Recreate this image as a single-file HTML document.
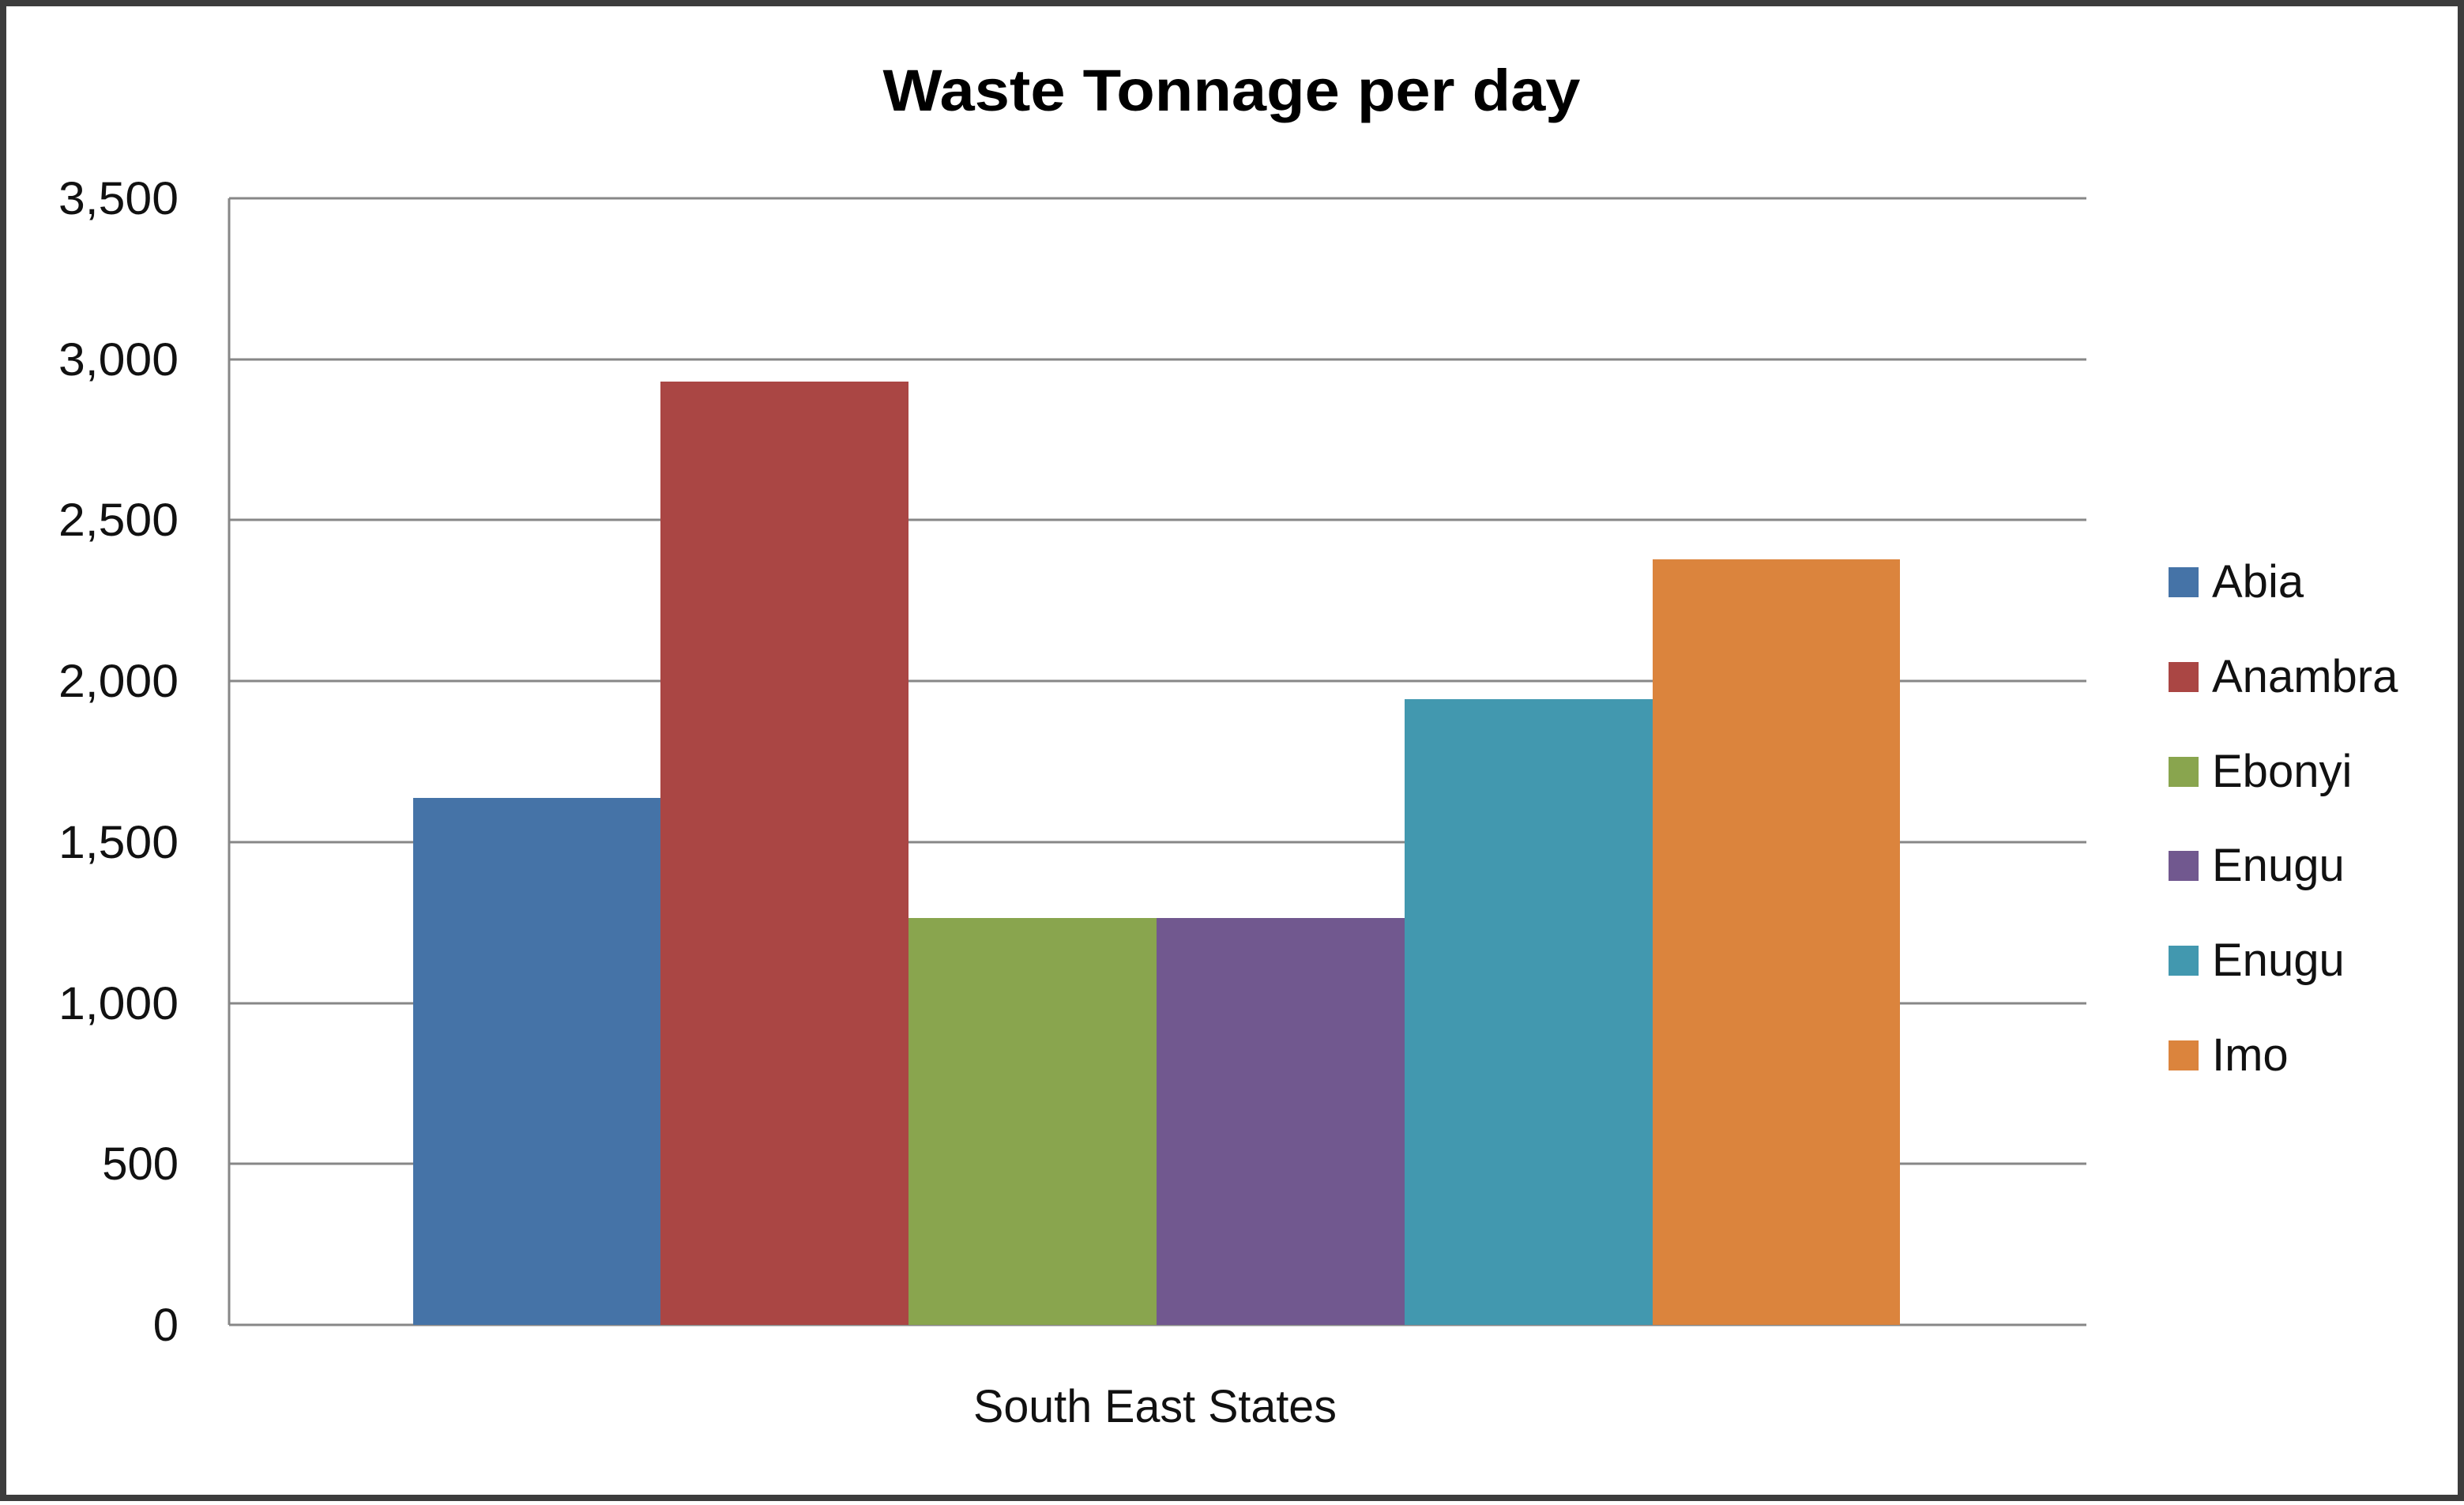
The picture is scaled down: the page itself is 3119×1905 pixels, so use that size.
<!DOCTYPE html>
<html><head><style>html,body{margin:0;padding:0;background:#fff}</style></head><body>
<svg width="3119" height="1900" xmlns="http://www.w3.org/2000/svg" font-family="'Liberation Sans',sans-serif">
<rect x="0" y="0" width="3119" height="1900" fill="#fff"/>
<rect x="4" y="4" width="3111" height="1892" fill="none" stroke="#3c3c3c" stroke-width="8"/>
<text x="1559" y="140" font-size="74" font-weight="bold" text-anchor="middle" textLength="883" lengthAdjust="spacingAndGlyphs">Waste Tonnage per day</text>
<g stroke="#878787" stroke-width="3">
<line x1="290" y1="251" x2="2641" y2="251"/>
<line x1="290" y1="455" x2="2641" y2="455"/>
<line x1="290" y1="658" x2="2641" y2="658"/>
<line x1="290" y1="862" x2="2641" y2="862"/>
<line x1="290" y1="1066" x2="2641" y2="1066"/>
<line x1="290" y1="1270" x2="2641" y2="1270"/>
<line x1="290" y1="1473" x2="2641" y2="1473"/>
<line x1="290" y1="1677" x2="2641" y2="1677"/>
<line x1="290" y1="251" x2="290" y2="1677"/>
</g>
<g font-size="58" text-anchor="end" fill="#111">
<text x="226" y="271" textLength="152" lengthAdjust="spacingAndGlyphs">3,500</text>
<text x="226" y="475" textLength="152" lengthAdjust="spacingAndGlyphs">3,000</text>
<text x="226" y="678" textLength="152" lengthAdjust="spacingAndGlyphs">2,500</text>
<text x="226" y="882" textLength="152" lengthAdjust="spacingAndGlyphs">2,000</text>
<text x="226" y="1086" textLength="152" lengthAdjust="spacingAndGlyphs">1,500</text>
<text x="226" y="1290" textLength="152" lengthAdjust="spacingAndGlyphs">1,000</text>
<text x="226" y="1493">500</text>
<text x="226" y="1697">0</text>
</g>
<rect x="523" y="1010" width="313" height="667" fill="#4573a7"/>
<rect x="836" y="483" width="314" height="1194" fill="#aa4644"/>
<rect x="1150" y="1162" width="314" height="515" fill="#89a54e"/>
<rect x="1464" y="1162" width="314" height="515" fill="#71588f"/>
<rect x="1778" y="885" width="314" height="792" fill="#4298af"/>
<rect x="2092" y="708" width="313" height="969" fill="#db843d"/>
<text x="1462" y="1800" font-size="58" text-anchor="middle" fill="#111" textLength="460" lengthAdjust="spacingAndGlyphs">South East States</text>
<g font-size="58" fill="#111">
<rect x="2745" y="718" width="38" height="38" fill="#4573a7"/><text x="2800" y="756">Abia</text>
<rect x="2745" y="838" width="38" height="38" fill="#aa4644"/><text x="2800" y="876">Anambra</text>
<rect x="2745" y="958" width="38" height="38" fill="#89a54e"/><text x="2800" y="996">Ebonyi</text>
<rect x="2745" y="1077" width="38" height="38" fill="#71588f"/><text x="2800" y="1115">Enugu</text>
<rect x="2745" y="1197" width="38" height="38" fill="#4298af"/><text x="2800" y="1235">Enugu</text>
<rect x="2745" y="1317" width="38" height="38" fill="#db843d"/><text x="2800" y="1355">Imo</text>
</g>
</svg>
</body></html>
